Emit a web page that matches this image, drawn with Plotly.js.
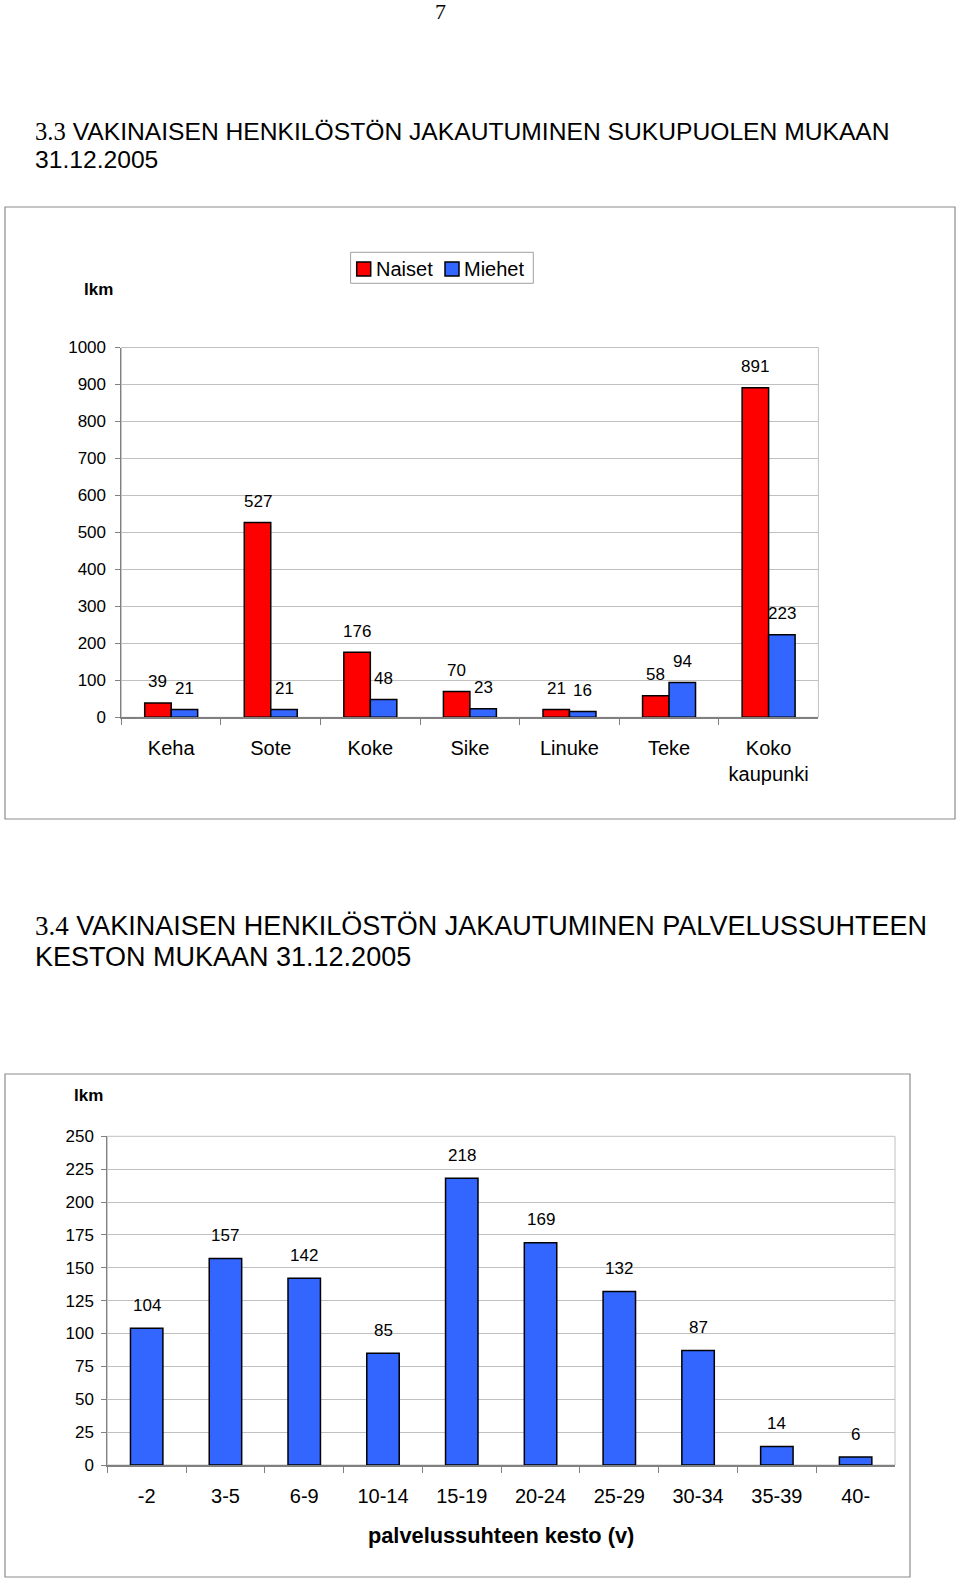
<!DOCTYPE html>
<html>
<head>
<meta charset="utf-8">
<script src="https://cdn.plot.ly/plotly-3.0.1.min.js"></script>
<style>html,body{margin:0;padding:0;background:#fff;}</style>
</head>
<body>
<div id="chart" style="width:960px;height:1580px;"></div>
<script>
// ---- Chart 3.3 data ----
const units = ["Keha", "Sote", "Koke", "Sike", "Linuke", "Teke", "Koko<br>kaupunki"];
const naiset = [39, 527, 176, 70, 21, 58, 891];
const miehet = [21, 21, 48, 23, 16, 94, 223];
const seriesNames = ["Naiset", "Miehet"];

// ---- Chart 3.4 data ----
const kestoCats = ["-2", "3-5", "6-9", "10-14", "15-19", "20-24", "25-29", "30-34", "35-39", "40-"];
const kestoVals = [104, 157, 142, 85, 218, 169, 132, 87, 14, 6];

const W = 960, H = 1580;
const px = v => v / W;
const py = v => 1 - v / H;

const RED = "#FF0000", BLUE = "#3366FF";
const seriesColors = [RED, BLUE];
const FONT = "Liberation Sans, Arial, sans-serif";
const SERIF = "Liberation Serif, Times New Roman, serif";

const traces = [
  {type: "bar", name: seriesNames[0], x: units, y: naiset, xaxis: "x", yaxis: "y", showlegend: false,
   marker: {color: RED, line: {color: "#000", width: 1.5}}, hoverinfo: "x+y+name"},
  {type: "bar", name: seriesNames[1], x: units, y: miehet, xaxis: "x", yaxis: "y", showlegend: false,
   marker: {color: BLUE, line: {color: "#000", width: 1.5}}, hoverinfo: "x+y+name"},
  {type: "bar", name: "lkm", x: kestoCats, y: kestoVals, xaxis: "x2", yaxis: "y2",
   width: 0.412, showlegend: false,
   marker: {color: BLUE, line: {color: "#000", width: 1.5}}}
];

const annotations = [];
const shapes = [];

// page number
annotations.push({xref: "paper", yref: "paper", x: px(440), y: py(11), text: "7",
  showarrow: false, xanchor: "center", yanchor: "middle", font: {family: SERIF, size: 22, color: "#000"}});
// section titles
function titleLine(txt, y, size) {
  annotations.push({xref: "paper", yref: "paper", x: px(33), y: py(y), text: txt, showarrow: false,
    xanchor: "left", yanchor: "middle", font: {family: FONT, size: size, color: "#000"}});
}
titleLine('<span style="font-family:' + SERIF + '">3.3</span> VAKINAISEN HENKILÖSTÖN JAKAUTUMINEN SUKUPUOLEN MUKAAN', 131, 24.65);
titleLine('31.12.2005', 159.5, 24.65);
titleLine('<span style="font-family:' + SERIF + '">3.4</span> VAKINAISEN HENKILÖSTÖN JAKAUTUMINEN PALVELUSSUHTEEN', 926, 27.0);
titleLine('KESTON MUKAAN 31.12.2005', 957, 27.0);
// lkm labels
annotations.push({xref: "paper", yref: "paper", x: px(98), y: py(290), text: "lkm", showarrow: false,
  xanchor: "center", yanchor: "middle", font: {family: FONT, size: 17, color: "#000", weight: "bold"}});
annotations.push({xref: "paper", yref: "paper", x: px(88), y: py(1095), text: "lkm", showarrow: false,
  xanchor: "center", yanchor: "middle", font: {family: FONT, size: 17, color: "#000", weight: "bold"}});

// legend (chart 3.3), drawn as a boxed key
shapes.push({type: "rect", xref: "paper", yref: "paper", x0: px(350.6), x1: px(533.3), y0: py(283.3), y1: py(252.3),
  line: {color: "#A0A0A0", width: 1}, fillcolor: "#fff", layer: "above"});
const keyX = [356.7, 445];
seriesNames.forEach((nm, k) => {
  shapes.push({type: "rect", xref: "paper", yref: "paper", x0: px(keyX[k]), x1: px(keyX[k] + 14),
    y0: py(276), y1: py(262), line: {color: "#000", width: 1.5}, fillcolor: seriesColors[k], layer: "above"});
  annotations.push({xref: "paper", yref: "paper", x: px(keyX[k] + 17), y: py(268.5), text: nm, showarrow: false,
    xanchor: "left", yanchor: "middle", font: {family: FONT, size: 20, color: "#000"}});
});

// data labels, chart 3.3 (x given as category index)
const half = 13.25;
units.forEach((u, i) => {
  annotations.push({xref: "x", yref: "y", x: i, y: naiset[i], text: String(naiset[i]), showarrow: false,
    xshift: -half, yshift: 21, yanchor: "middle", font: {family: FONT, size: 17, color: "#000"}});
  annotations.push({xref: "x", yref: "y", x: i, y: miehet[i], text: String(miehet[i]), showarrow: false,
    xshift: half, yshift: 21, yanchor: "middle", font: {family: FONT, size: 17, color: "#000"}});
});
// data labels, chart 3.4
kestoCats.forEach((c, i) => {
  annotations.push({xref: "x2", yref: "y2", x: i, y: kestoVals[i], text: String(kestoVals[i]), showarrow: false,
    yshift: 23, yanchor: "middle", font: {family: FONT, size: 17, color: "#000"}});
});

// chart frames and plot-area borders
shapes.push(
  {type: "rect", xref: "paper", yref: "paper", x0: px(5), x1: px(955), y0: py(819), y1: py(207),
   line: {color: "#8C8C8C", width: 1.2}, fillcolor: "rgba(0,0,0,0)", layer: "below"},
  {type: "rect", xref: "paper", yref: "paper", x0: px(5), x1: px(910), y0: py(1577), y1: py(1074),
   line: {color: "#8C8C8C", width: 1.2}, fillcolor: "rgba(0,0,0,0)", layer: "below"},
  {type: "rect", xref: "x domain", yref: "y domain", x0: 0, x1: 1, y0: 0, y1: 1,
   line: {color: "#C0C0C0", width: 1}, layer: "below"},
  {type: "rect", xref: "x2 domain", yref: "y2 domain", x0: 0, x1: 1, y0: 0, y1: 1,
   line: {color: "#C0C0C0", width: 1}, layer: "below"}
);

const yAxisCommon = {
  showgrid: true, gridcolor: "#C0C0C0", gridwidth: 1, zeroline: false,
  showline: true, linecolor: "#808080", linewidth: 1,
  ticks: "outside", ticklen: 5, tickcolor: "#808080",
  tickfont: {family: FONT, size: 17, color: "#000"}, fixedrange: true
};
const xAxisCommon = {
  type: "category", showgrid: false, zeroline: false,
  showline: true, linecolor: "#808080", linewidth: 2,
  ticks: "outside", ticklen: 6, tickcolor: "#808080", tickson: "boundaries",
  tickfont: {family: FONT, size: 20, color: "#000"}, fixedrange: true
};

const layout = {
  width: W, height: H,
  margin: {l: 0, r: 0, t: 0, b: 0},
  paper_bgcolor: "#fff", plot_bgcolor: "#fff",
  font: {family: FONT, color: "#000"},
  barmode: "group", bargap: 0.468, bargroupgap: 0,
  showlegend: false,
  xaxis: Object.assign({}, xAxisCommon, {domain: [px(121.4), px(818.4)], anchor: "y",
    range: [-0.5, units.length - 0.5], ticklabelstandoff: 12}),
  yaxis: Object.assign({}, yAxisCommon, {domain: [py(717.3), py(347.5)], anchor: "x", range: [0, 1000], dtick: 100, ticklabelstandoff: 6}),
  xaxis2: Object.assign({}, xAxisCommon, {domain: [px(107.3), px(895)], anchor: "y2",
    range: [-0.5, kestoCats.length - 0.5], ticklabelstandoff: 12,
    title: {text: "palvelussuhteen kesto (v)", standoff: 22, font: {family: FONT, size: 21.8, color: "#000", weight: "bold"}}}),
  yaxis2: Object.assign({}, yAxisCommon, {domain: [py(1465), py(1136.3)], anchor: "x2", range: [0, 250], dtick: 25, ticklabelstandoff: 4}),
  annotations: annotations,
  shapes: shapes
};

Plotly.newPlot("chart", traces, layout, {displayModeBar: false, staticPlot: false, responsive: false});
</script>
</body>
</html>
